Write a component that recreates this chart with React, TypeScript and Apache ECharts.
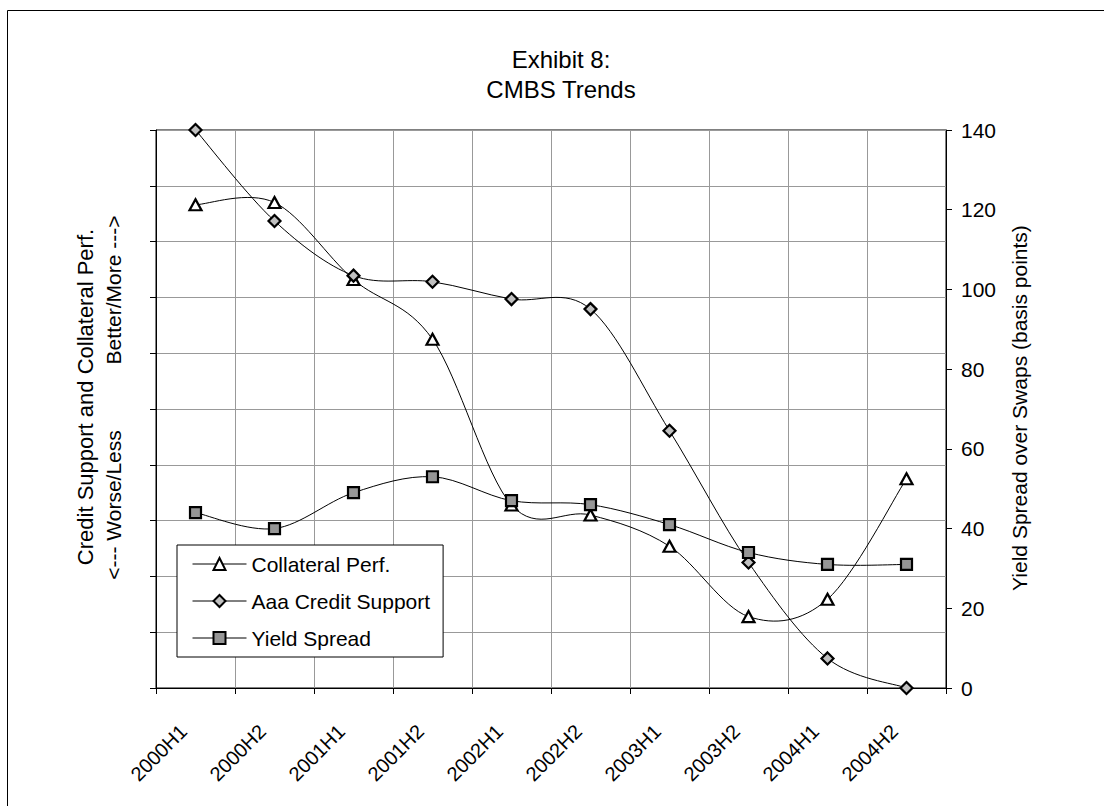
import React, { useEffect, useRef } from "react";
import * as echarts from "echarts";

// Half-year periods on the category axis
const categories = [
  "2000H1", "2000H2", "2001H1", "2001H2", "2002H1",
  "2002H2", "2003H1", "2003H2", "2004H1", "2004H2",
];

// Index scale (left axis, unlabelled): higher = better / more
const collateralPerf = [86.6, 87.0, 73.2, 62.5, 32.8, 31.0, 25.4, 12.8, 15.9, 37.5];
const aaaCreditSupport = [100, 83.7, 73.9, 72.8, 69.7, 67.9, 46.1, 22.5, 5.3, 0];

// Yield spread over swaps, basis points (right axis)
const yieldSpread = [44, 40, 49, 53, 47, 46, 41, 34, 31, 31];

const rightTicks = { min: 0, max: 140, interval: 20 };
const leftTicks = { min: 0, max: 100, interval: 10 };

const FONT = '"Liberation Sans", Arial, Helvetica, sans-serif';

// Smoothed connector drawn as cubic Bezier segments (Catmull-Rom style tangents)
function smoothCurve(values: number[], yAxisIndex: number) {
  const n = values.length;
  const clampIdx = (k: number) => Math.max(0, Math.min(n - 1, k));
  return {
    type: "custom",
    yAxisIndex,
    silent: true,
    z: 2,
    data: values.map((v, i) => [i, v]),
    encode: { x: 0, y: 1 },
    renderItem: (params: any, api: any) => {
      const i = params.dataIndex;
      if (i >= n - 1) return { type: "group", children: [] };
      const pt = (k: number) => {
        const c = clampIdx(k);
        return api.coord([c, values[c]]);
      };
      const p0 = pt(i - 1);
      const p1 = pt(i);
      const p2 = pt(i + 1);
      const p3 = pt(i + 2);
      return {
        type: "bezierCurve",
        shape: {
          x1: p1[0],
          y1: p1[1],
          x2: p2[0],
          y2: p2[1],
          cpx1: p1[0] + (p2[0] - p0[0]) / 6,
          cpy1: p1[1] + (p2[1] - p0[1]) / 6,
          cpx2: p2[0] - (p3[0] - p1[0]) / 6,
          cpy2: p2[1] - (p3[1] - p1[1]) / 6,
        },
        style: { stroke: "#000", lineWidth: 1, fill: "none" },
      };
    },
  };
}

// Marker-only line series (also feeds the legend)
function markers(
  name: string,
  values: number[],
  yAxisIndex: number,
  symbol: string,
  symbolSize: number | number[],
  fill: string
) {
  return {
    name,
    type: "line",
    yAxisIndex,
    data: values,
    symbol,
    symbolSize,
    showSymbol: true,
    z: 3,
    lineStyle: { opacity: 0 },
    itemStyle: { color: fill, borderColor: "#000", borderWidth: 2.2 },
    emphasis: { disabled: true },
  };
}

function verticalText(text: string, x: number, y: number, size: number) {
  return {
    type: "text",
    x,
    y,
    rotation: Math.PI / 2,
    silent: true,
    style: {
      text,
      fontFamily: FONT,
      fontSize: size,
      fill: "#000",
      align: "center",
      verticalAlign: "middle",
    },
  };
}

export default function App() {
  const ref = useRef<HTMLDivElement>(null);

  useEffect(() => {
    if (!ref.current) return;
    const chart = echarts.init(ref.current, undefined, { renderer: "svg" });

    const option = {
      animation: false,
      backgroundColor: "#fff",
      textStyle: { fontFamily: FONT, color: "#000" },
      grid: {
        left: 156,
        top: 130,
        width: 790,
        height: 558,
        show: true,
        borderColor: "#000",
        borderWidth: 1,
        backgroundColor: "transparent",
      },
      legend: {
        orient: "vertical",
        left: 177,
        top: 545,
        padding: [8, 13, 8, 15],
        itemWidth: 54,
        itemHeight: 15,
        itemGap: 15,
        backgroundColor: "#fff",
        borderColor: "#000",
        borderWidth: 1,
        borderRadius: 0,
        selectedMode: false,
        lineStyle: { color: "#000", width: 1, opacity: 1 },
        textStyle: { fontFamily: FONT, fontSize: 21, color: "#000", lineHeight: 22 },
        data: ["Collateral Perf.", "Aaa Credit Support", "Yield Spread"],
      },
      xAxis: {
        type: "category",
        data: categories,
        boundaryGap: true,
        axisLine: { show: true, lineStyle: { color: "#000", width: 1 } },
        axisTick: { show: true, length: 6, inside: false, lineStyle: { color: "#000" } },
        axisLabel: {
          interval: 0,
          rotate: 45,
          margin: 28,
          padding: [0, 17, 0, 0],
          fontFamily: FONT,
          fontSize: 20,
          color: "#000",
        },
        splitLine: { show: true, interval: 0, lineStyle: { color: "#999", width: 1 } },
      },
      yAxis: [
        {
          type: "value",
          position: "left",
          ...leftTicks,
          axisLine: { show: true, lineStyle: { color: "#000", width: 1 } },
          axisTick: { show: true, length: 6, lineStyle: { color: "#000" } },
          axisLabel: { show: false },
          splitLine: { show: true, lineStyle: { color: "#999", width: 1 } },
        },
        {
          type: "value",
          position: "right",
          ...rightTicks,
          axisLine: { show: true, lineStyle: { color: "#000", width: 1 } },
          axisTick: { show: true, length: 6, lineStyle: { color: "#000" } },
          axisLabel: { margin: 15, fontFamily: FONT, fontSize: 21, color: "#000" },
          splitLine: { show: false },
        },
      ],
      graphic: [
        {
          type: "rect",
          silent: true,
          z: -10,
          shape: { x: 7.5, y: 10.5, width: 1200, height: 900 },
          style: { fill: "none", stroke: "#000", lineWidth: 1 },
        },
        {
          type: "text",
          x: 561,
          y: 45.3,
          silent: true,
          style: {
            text: "Exhibit 8:\nCMBS Trends",
            fontFamily: FONT,
            fontSize: 24,
            lineHeight: 29.4,
            fill: "#000",
            align: "center",
            verticalAlign: "top",
          },
        },
        verticalText("Credit Support and Collateral Perf.", 85, 397, 22),
        verticalText("Better/More --->", 113, 290, 21),
        verticalText("<--- Worse/Less", 113, 505, 21),
        verticalText("Yield Spread over Swaps (basis points)", 1019, 408, 21),
      ],
      series: [
        smoothCurve(collateralPerf, 0),
        smoothCurve(aaaCreditSupport, 0),
        smoothCurve(yieldSpread, 1),
        markers("Collateral Perf.", collateralPerf, 0, "triangle", [12, 11], "#fff"),
        markers("Aaa Credit Support", aaaCreditSupport, 0, "diamond", 12, "#c0c0c0"),
        markers("Yield Spread", yieldSpread, 1, "rect", 11, "#969696"),
      ],
    };

    chart.setOption(option as any);
    return () => chart.dispose();
  }, []);

  return (
    <div
      ref={ref}
      style={{ position: "fixed", left: 0, top: 0, width: 1104, height: 806 }}
    />
  );
}
